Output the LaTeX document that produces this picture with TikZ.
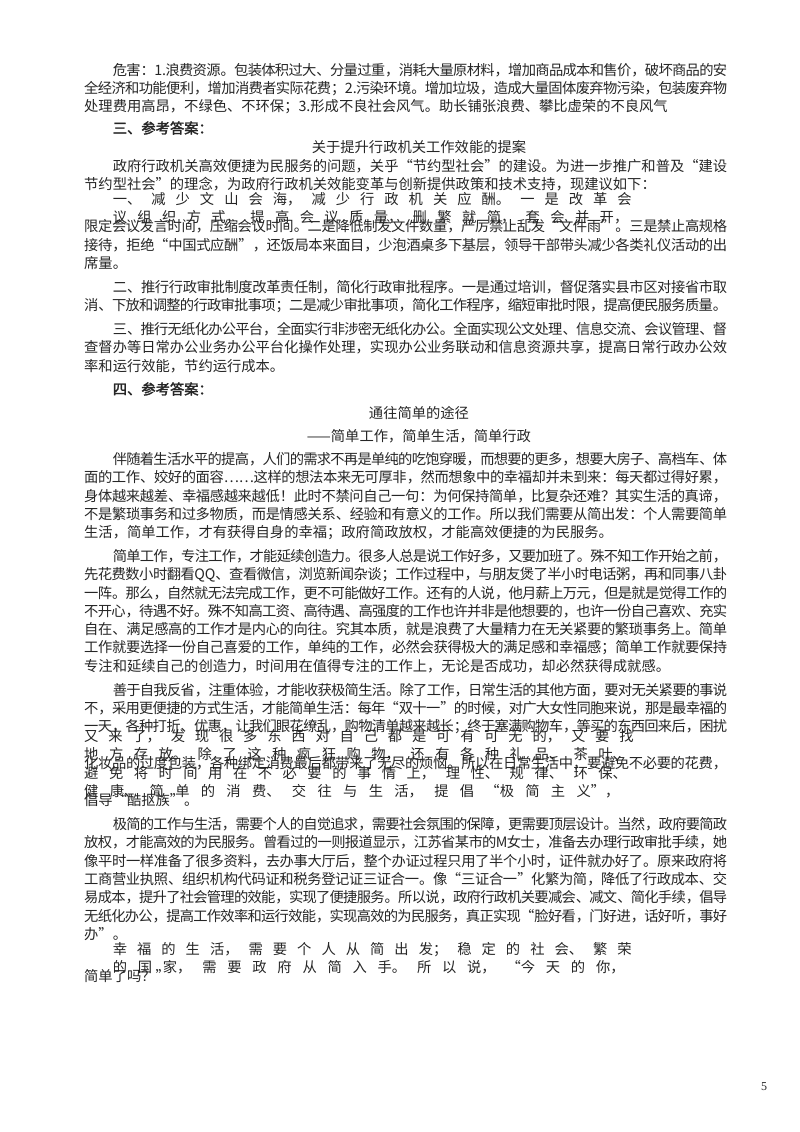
\documentclass[tikz,border=0pt]{standalone}
\usepackage{fontspec}
\setmainfont{Noto Sans CJK SC}[AutoFakeBold=2]
\newfontfamily\numfont{Liberation Serif}
\tikzset{
  txt/.style={anchor=west, inner sep=0pt, text=black!85, font=\fontsize{14.29pt}{18pt}\selectfont},
  fl/.style={txt, text width=643pt, execute at begin node={\XeTeXlinebreaklocale "zh"\XeTeXlinebreakskip=0pt plus 3pt minus 1pt\tolerance=10000\parfillskip=0pt}},
  fi/.style={fl, text width=614.4pt},
  ctr/.style={txt, anchor=center},
  hd/.style={txt, font=\fontsize{14.29pt}{18pt}\selectfont\bfseries}
}
\begin{document}
\begin{tikzpicture}[x=1pt,y=-1pt]
\useasboundingbox (0,0) rectangle (800,1132);
\fill[white] (0,0) rectangle (800,1132);
\node[fi] (l1) at (112.6,70) {危害：1.浪费资源。包装体积过大、分量过重，消耗大量原材料，增加商品成本和售价，破坏商品的安};
\node[fl] (l2) at (84,88.4) {全经济和功能便利，增加消费者实际花费；2.污染环境。增加垃圾，造成大量固体废弃物污染，包装废弃物};
\node[txt] (l3) at (84,106.8) {处理费用高昂，不绿色、不环保；3.形成不良社会风气。助长铺张浪费、攀比虚荣的不良风气};
\node[hd] (l4) at (112.6,128) {三、参考答案：};
\node[ctr] (l5) at (419,147) {关于提升行政机关工作效能的提案};
\node[fi] (l6) at (112.6,166) {政府行政机关高效便捷为民服务的问题，关乎“节约型社会”的建设。为进一步推广和普及“建设};
\node[txt] (l7) at (84,184.4) {节约型社会”的理念，为政府行政机关效能变革与创新提供政策和技术支持，现建议如下：};
\node[fi] (l8) at (112.6,208) {一、减少文山会海，减少行政机关应酬。一是改革会议组织方式，提高会议质量，删繁就简，套会并开，};
\node[fl] (l9) at (84,226.4) {限定会议发言时间，压缩会议时间。二是降低制发文件数量，严厉禁止乱发“文件雨”。三是禁止高规格};
\node[fl] (l10) at (84,244.8) {接待，拒绝“中国式应酬”，还饭局本来面目，少泡酒桌多下基层，领导干部带头减少各类礼仪活动的出};
\node[txt] (l11) at (84,263.2) {席量。};
\node[fi] (l12) at (112.6,287) {二、推行行政审批制度改革责任制，简化行政审批程序。一是通过培训，督促落实县市区对接省市取};
\node[fl] (l13) at (84,305.4) {消、下放和调整的行政审批事项；二是减少审批事项，简化工作程序，缩短审批时限，提高便民服务质量。};
\node[fi] (l14) at (112.6,329) {三、推行无纸化办公平台，全面实行非涉密无纸化办公。全面实现公文处理、信息交流、会议管理、督};
\node[fl] (l15) at (84,347.4) {查督办等日常办公业务办公平台化操作处理，实现办公业务联动和信息资源共享，提高日常行政办公效};
\node[txt] (l16) at (84,365.8) {率和运行效能，节约运行成本。};
\node[hd] (l17) at (112.6,389) {四、参考答案：};
\node[ctr] (l18) at (419,413) {通往简单的途径};
\node[ctr] (l19) at (419,436) {——简单工作，简单生活，简单行政};
\node[fi] (l20) at (112.6,459) {伴随着生活水平的提高，人们的需求不再是单纯的吃饱穿暖，而想要的更多，想要大房子、高档车、体};
\node[fl] (l21) at (84,477.4) {面的工作、姣好的面容……这样的想法本来无可厚非，然而想象中的幸福却并未到来：每天都过得好累，};
\node[fl] (l22) at (84,495.8) {身体越来越差、幸福感越来越低！此时不禁问自己一句：为何保持简单，比复杂还难？其实生活的真谛，};
\node[fl] (l23) at (84,514.2) {不是繁琐事务和过多物质，而是情感关系、经验和有意义的工作。所以我们需要从简出发：个人需要简单};
\node[txt] (l24) at (84,532.6) {生活，简单工作，才有获得自身的幸福；政府简政放权，才能高效便捷的为民服务。};
\node[fi] (l25) at (112.6,556) {简单工作，专注工作，才能延续创造力。很多人总是说工作好多，又要加班了。殊不知工作开始之前，};
\node[fl] (l26) at (84,574.4) {先花费数小时翻看QQ、查看微信，浏览新闻杂谈；工作过程中，与朋友煲了半小时电话粥，再和同事八卦};
\node[fl] (l27) at (84,592.8) {一阵。那么，自然就无法完成工作，更不可能做好工作。还有的人说，他月薪上万元，但是就是觉得工作的};
\node[fl] (l28) at (84,611.2) {不开心，待遇不好。殊不知高工资、高待遇、高强度的工作也许并非是他想要的，也许一份自己喜欢、充实};
\node[fl] (l29) at (84,629.6) {自在、满足感高的工作才是内心的向往。究其本质，就是浪费了大量精力在无关紧要的繁琐事务上。简单};
\node[fl] (l30) at (84,648) {工作就要选择一份自己喜爱的工作，单纯的工作，必然会获得极大的满足感和幸福感；简单工作就要保持};
\node[txt] (l31) at (84,666.4) {专注和延续自己的创造力，时间用在值得专注的工作上，无论是否成功，却必然获得成就感。};
\node[fi] (l32) at (112.6,690) {善于自我反省，注重体验，才能收获极简生活。除了工作，日常生活的其他方面，要对无关紧要的事说};
\node[fl] (l33) at (84,708.4) {不，采用更便捷的方式生活，才能简单生活：每年“双十一”的时候，对广大女性同胞来说，那是最幸福的};
\node[fl] (l34) at (84,726.8) {一天，各种打折、优惠，让我们眼花缭乱，购物清单越来越长；终于塞满购物车，等买的东西回来后，困扰};
\node[fl] (l35) at (84,745.2) {又来了，发现很多东西对自己都是可有可无的，又要找地方存放。除了这种疯狂购物，还有各种礼品、茶叶、};
\node[fl] (l36) at (84,763.6) {化妆品的过度包装，各种绑定消费最后都带来了无尽的烦恼。所以在日常生活中，要避免不必要的花费，};
\node[fl] (l37) at (84,782) {避免将时间用在不必要的事情上，理性、规律、环保、健康、简单的消费、交往与生活，提倡“极简主义”，};
\node[txt] (l38) at (84,800.4) {倡导“酷抠族”。};
\node[fi] (l39) at (112.6,824) {极简的工作与生活，需要个人的自觉追求，需要社会氛围的保障，更需要顶层设计。当然，政府要简政};
\node[fl] (l40) at (84,842.4) {放权，才能高效的为民服务。曾看过的一则报道显示，江苏省某市的M女士，准备去办理行政审批手续，她};
\node[fl] (l41) at (84,860.8) {像平时一样准备了很多资料，去办事大厅后，整个办证过程只用了半个小时，证件就办好了。原来政府将};
\node[fl] (l42) at (84,879.2) {工商营业执照、组织机构代码证和税务登记证三证合一。像“三证合一”化繁为简，降低了行政成本、交};
\node[fl] (l43) at (84,897.6) {易成本，提升了社会管理的效能，实现了便捷服务。所以说，政府行政机关要减会、减文、简化手续，倡导};
\node[fl] (l44) at (84,916) {无纸化办公，提高工作效率和运行效能，实现高效的为民服务，真正实现“脸好看，门好进，话好听，事好};
\node[txt] (l45) at (84,934.4) {办”。};
\node[fi] (l46) at (112.6,958) {幸福的生活，需要个人从简出发；稳定的社会、繁荣的国家，需要政府从简入手。所以说，“今天的你，};
\node[txt] (l47) at (84,976.4) {简单了吗？”};
\node[txt, font=\numfont\fontsize{12pt}{14pt}\selectfont] (pg) at (761,1087) {5};
\end{tikzpicture}
\end{document}
